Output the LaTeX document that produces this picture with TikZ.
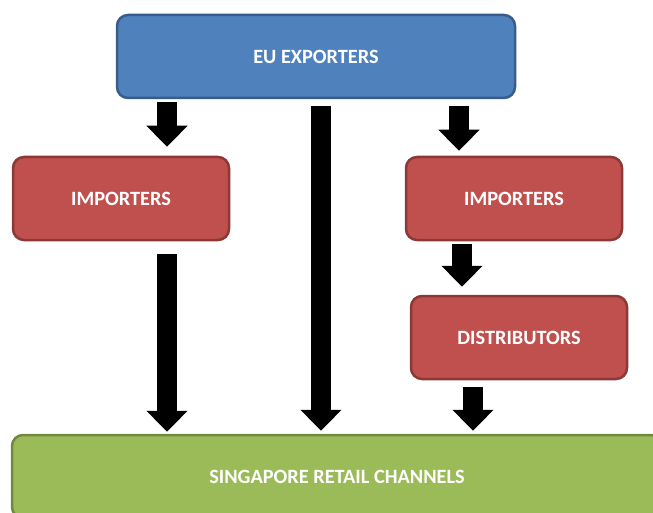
\documentclass[tikz,border=0pt]{standalone}
\usepackage{fontspec}
\setmainfont{Carlito}
\usetikzlibrary{arrows.meta,calc}
\definecolor{bluefill}{HTML}{4F81BD}
\definecolor{blueline}{HTML}{385D8A}
\definecolor{redfill}{HTML}{C0504D}
\definecolor{redline}{HTML}{8C3836}
\definecolor{greenfill}{HTML}{9BBB59}
\definecolor{greenline}{HTML}{71893F}
\tikzset{
  boxbase/.style={rounded corners=11pt, line width=2.5pt, minimum height=83pt,
    inner sep=0pt, text=white, font=\fontsize{20.3}{24}\selectfont\bfseries},
  bluebox/.style={boxbase, fill=bluefill, draw=blueline},
  redbox/.style={boxbase, fill=redfill, draw=redline, minimum width=216pt},
  greenbox/.style={boxbase, fill=greenfill, draw=greenline},
  blk/.style={draw=black, line width=20pt,
    -{Triangle[width=40pt,length=21pt]}}
}
\begin{document}
\begin{tikzpicture}[x=1pt,y=-1pt]
\useasboundingbox (0,0) rectangle (653,513);
\clip (0,0) rectangle (653,513);
\fill[white] (0,0) rectangle (653,513);
\node[bluebox, minimum width=398pt] (eu) at (316,56.5) {EU EXPORTERS};
\node[redbox] (imp1) at (121,198.5) {IMPORTERS};
\node[redbox] (imp2) at (514,198.5) {IMPORTERS};
\node[redbox] (dist) at (519,337.5) {DISTRIBUTORS};
\node[greenbox, minimum width=650pt] (retail) at (337,476.5) {SINGAPORE RETAIL CHANNELS};
\coordinate (xa) at (167,0);
\coordinate (xb) at (321,0);
\coordinate (xc) at (459,0);
\coordinate (xd) at (462,0);
\coordinate (xe) at (473,0);
\draw[blk] ($(xa |- eu.south)+(0,3)$) -- ($(xa |- imp1.north)+(0,-9)$);
\draw[blk] ($(xb |- eu.south)+(0,7)$) -- ($(xb |- retail.north)+(0,-3)$);
\draw[blk] ($(xc |- eu.south)+(0,7)$) -- ($(xc |- imp2.north)+(0,-5)$);
\draw[blk] ($(xa |- imp1.south)+(0,13)$) -- ($(xa |- retail.north)+(0,-2)$);
\draw[blk] ($(xd |- imp2.south)+(0,3)$) -- ($(xd |- dist.north)+(0,-8)$);
\draw[blk] ($(xe |- dist.south)+(0,7)$) -- ($(xe |- retail.north)+(0,-3)$);
\end{tikzpicture}
\end{document}
